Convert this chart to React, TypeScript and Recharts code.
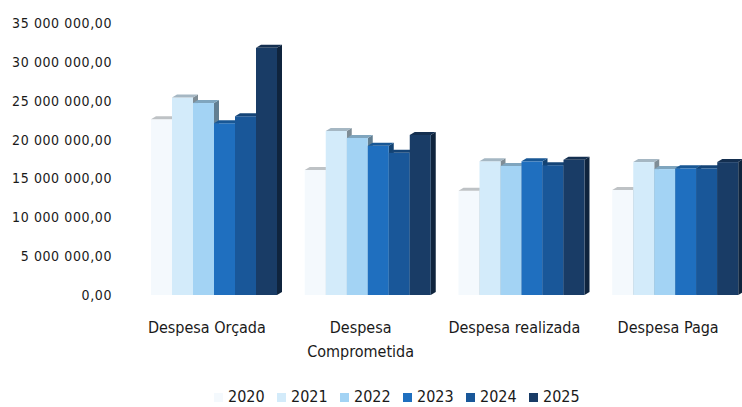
import React from 'react';
import { BarChart, Bar, XAxis, YAxis, Legend } from 'recharts';

const FONT = "'DejaVu Sans Condensed', 'Liberation Sans Narrow', 'DejaVu Sans', sans-serif";

// categories (labels keep the line break of the original)
const categories = ['Despesa Orçada', 'Despesa\nComprometida', 'Despesa realizada', 'Despesa Paga'];
const years = ['2020', '2021', '2022', '2023', '2024', '2025'];

// values per year, one per category
const v2020 = [22600000, 16100000, 13400000, 13500000];
const v2021 = [25400000, 21100000, 17200000, 17100000];
const v2022 = [24700000, 20200000, 16600000, 16200000];
const v2023 = [22100000, 19200000, 17200000, 16300000];
const v2024 = [23000000, 18300000, 16700000, 16300000];
const v2025 = [31800000, 20600000, 17400000, 17100000];

const yTicks = [0, 5000000, 10000000, 15000000, 20000000, 25000000, 30000000, 35000000];

const colors = ['#f4f9fd', '#d3ebfa', '#a3d3f4', '#1f6fbf', '#195799', '#193c66'];

const series = [v2020, v2021, v2022, v2023, v2024, v2025];
const data = categories.map((name, i) => {
  const row: Record<string, string | number> = { name };
  years.forEach((y, k) => {
    row[y] = series[k][i];
  });
  return row;
});

const fmt = (v: number) => `${String(v).replace(/\B(?=(\d{3})+(?!\d))/g, ' ')},00`;

function shade(hex: string, f: number) {
  const n = parseInt(hex.slice(1), 16);
  const r = Math.round(((n >> 16) & 255) * f);
  const g = Math.round(((n >> 8) & 255) * f);
  const b = Math.round((n & 255) * f);
  return `rgb(${r},${g},${b})`;
}

// front face + top + side to mimic the 3D columns
const Bar3D = (props: any) => {
  const { x, y, width: w, height: h, fill } = props;
  if (!w || h == null) return null;
  const dx = 5;
  const dy = 3;
  return (
    <g>
      <polygon
        points={`${x + w},${y} ${x + w + dx},${y - dy} ${x + w + dx},${y + h - dy} ${x + w},${y + h}`}
        fill={shade(fill, 0.6)}
      />
      <rect x={x} y={y} width={w} height={h} fill={fill} />
      <polygon
        points={`${x},${y} ${x + dx},${y - dy} ${x + w + dx},${y - dy} ${x + w},${y}`}
        fill={shade(fill, 0.78)}
      />
    </g>
  );
};

const CatTick = (props: any) => {
  const { x, y, payload } = props;
  const lines = String(payload.value).split('\n');
  const cx = x - 7;
  return (
    <text x={cx} y={y} textAnchor="middle" fill="#1a1a1a" fontSize={16} fontFamily={FONT}>
      {lines.map((l, i) => (
        <tspan key={i} x={cx} dy={i === 0 ? 38 : 24}>
          {l}
        </tspan>
      ))}
    </text>
  );
};

const LegendContent = () => (
  <div
    style={{
      display: 'flex',
      paddingLeft: 214,
      height: 18,
      lineHeight: '18px',
      fontFamily: FONT,
      fontSize: 16,
      color: '#1a1a1a',
    }}
  >
    {years.map((y, i) => (
      <div key={y} style={{ display: 'flex', alignItems: 'center', width: 63 }}>
        <span style={{ display: 'inline-block', width: 9, height: 9, background: colors[i], marginRight: 5 }} />
        <span>{y}</span>
      </div>
    ))}
  </div>
);

export default function App() {
  return (
    <div>
      <style>{'body{margin:0;overflow:hidden;background:#fff}'}</style>
      <BarChart
        width={760}
        height={420}
        data={data}
        margin={{ top: 23, right: 8, left: 0, bottom: 0 }}
        barGap={0}
        barSize={21}
      >
        <XAxis
          dataKey="name"
          interval={0}
          tickLine={false}
          axisLine={false}
          tickSize={0}
          tickMargin={0}
          height={97}
          tick={<CatTick />}
        />
        <YAxis
          width={137}
          domain={[0, 35000000]}
          ticks={yTicks}
          tickFormatter={fmt}
          tickLine={false}
          axisLine={false}
          tickMargin={19}
          tick={{ fill: '#1a1a1a', fontSize: 14, fontFamily: FONT, letterSpacing: 0.6 }}
        />
        <Legend
          verticalAlign="bottom"
          height={28}
          content={<LegendContent />}
          wrapperStyle={{ left: 0, top: 388, width: 760 }}
        />
        {years.map((y, i) => (
          <Bar key={y} dataKey={y} fill={colors[i]} shape={<Bar3D />} isAnimationActive={false} />
        ))}
      </BarChart>
    </div>
  );
}
